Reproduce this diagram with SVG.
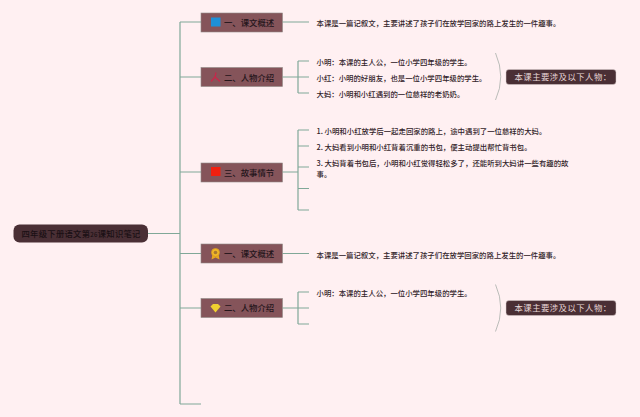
<svg xmlns="http://www.w3.org/2000/svg" width="640" height="417" viewBox="0 0 640 417">
<style>
text{font-family:"Noto Sans CJK SC","Liberation Sans",sans-serif}
.c{fill:none;stroke:#80a898;stroke-width:1.2}
.n{fill:#85545a;stroke:#8f8a88;stroke-width:.6}
.nt{font-size:8.4px;fill:#24151a;font-weight:500}
.t{font-size:7.4px;fill:#33242a;font-weight:500}
.s{fill:#4a2f35;stroke:#d8cccc;stroke-width:.5}
.st{font-size:8.4px;fill:#e8d8d8;letter-spacing:.45px}
.b{fill:none;stroke:#a8aeaa;stroke-width:.8}
</style>
<rect width="640" height="417" fill="#fff0f2"/>
<g id="connectors">
<path class="c" d="M148 233.500H180M180 22V404M180 22H201M180 77H201M180 172H201M180 253.500H201M180 308H201M180 404H201"/>
<path class="c" d="M282.500 22H309M282.500 77H309M298 61H309M298 93H309M298 61V93"/>
<path class="c" d="M282.500 172H298M298 130V210M298 130H309M298 146H309M298 167H309M298 188.500H309M298 210H309"/>
<path class="c" d="M282.500 253.500H309M282.500 308H309M298 292H309M298 324H309M298 292V324"/>
<path class="b" d="M495.500 53Q506 77 495.500 100"/>
<path class="b" d="M495.500 284.500Q506 308 495.500 331.500"/>
</g>
<g id="root"><rect x="13.500" y="224.500" width="134.500" height="18" rx="6" fill="#4a2f35"/><text x="21.500" y="237" font-size="8.300" font-weight="500" fill="#1a1014" letter-spacing=".3">四年级下册语文第<tspan font-size="6">26</tspan>课知识笔记</text></g>
<g id="node1"><rect class="n" x="201" y="13" width="81.500" height="19"/><rect x="211" y="17.500" width="9.500" height="9" fill="#1e90d8"/><text class="nt" x="224" y="26">一、课文概述</text></g>
<g id="node2"><rect class="n" x="201" y="67.500" width="81.500" height="19"/><path d="M216 72.500L215 77M215 77L211 81.500M215 77L220 81.500" fill="none" stroke="#c8284a" stroke-width="1.300"/><text class="nt" x="224" y="80.500">二、人物介绍</text></g>
<g id="node3"><rect class="n" x="201" y="163" width="81.500" height="19"/><rect x="211" y="167" width="9.500" height="9" fill="#f02010"/><text class="nt" x="224" y="176">三、故事情节</text></g>
<g id="node4"><rect class="n" x="201" y="244" width="81.500" height="19"/><path d="M212.500 254L211.500 259.500L215.500 257.500L219.500 259.500L218.500 254Z" fill="#e8a820"/><circle cx="215.500" cy="252.500" r="4" fill="#f0b828" stroke="#d89820" stroke-width=".8"/><circle cx="215.500" cy="252.500" r="1.800" fill="#a87830"/><text class="nt" x="224" y="257">一、课文概述</text></g>
<g id="node5"><rect class="n" x="201" y="298.500" width="81.500" height="19"/><path d="M213 304H218L220.500 306.500L215.500 312.500L210.500 306.500Z" fill="#f0d030"/><text class="nt" x="224" y="311">二、人物介绍</text></g>
<g id="leaf1"><text class="t" x="316.500" y="26">本课是一篇记叙文，主要讲述了孩子们在放学回家的路上发生的一件趣事。</text></g>
<g id="leaf2a"><text class="t" x="316.500" y="64.500">小明：本课的主人公，一位小学四年级的学生。</text></g>
<g id="leaf2b"><text class="t" x="316.500" y="80.500">小红：小明的好朋友，也是一位小学四年级的学生。</text></g>
<g id="leaf2c"><text class="t" x="316.500" y="96.500">大妈：小明和小红遇到的一位慈祥的老奶奶。</text></g>
<g id="summary1"><rect class="s" x="506" y="69.500" width="110" height="15" rx="3"/><text class="st" x="514.500" y="80">本课主要涉及以下人物：</text></g>
<g id="leaf3a"><text class="t" x="316.500" y="133.500">1. 小明和小红放学后一起走回家的路上，途中遇到了一位慈祥的大妈。</text></g>
<g id="leaf3b"><text class="t" x="316.500" y="149.500">2. 大妈看到小明和小红背着沉重的书包，便主动提出帮忙背书包。</text></g>
<g id="leaf3c"><text class="t" x="316.500" y="165.500">3. 大妈背着书包后，小明和小红觉得轻松多了，还能听到大妈讲一些有趣的故</text><text class="t" x="316.500" y="176.500">事。</text></g>
<g id="leaf4"><text class="t" x="316.500" y="257.500">本课是一篇记叙文，主要讲述了孩子们在放学回家的路上发生的一件趣事。</text></g>
<g id="leaf5"><text class="t" x="316.500" y="295.500">小明：本课的主人公，一位小学四年级的学生。</text></g>
<g id="summary2"><rect class="s" x="506" y="300.500" width="110" height="15" rx="3"/><text class="st" x="514.500" y="311">本课主要涉及以下人物：</text></g>
</svg>
